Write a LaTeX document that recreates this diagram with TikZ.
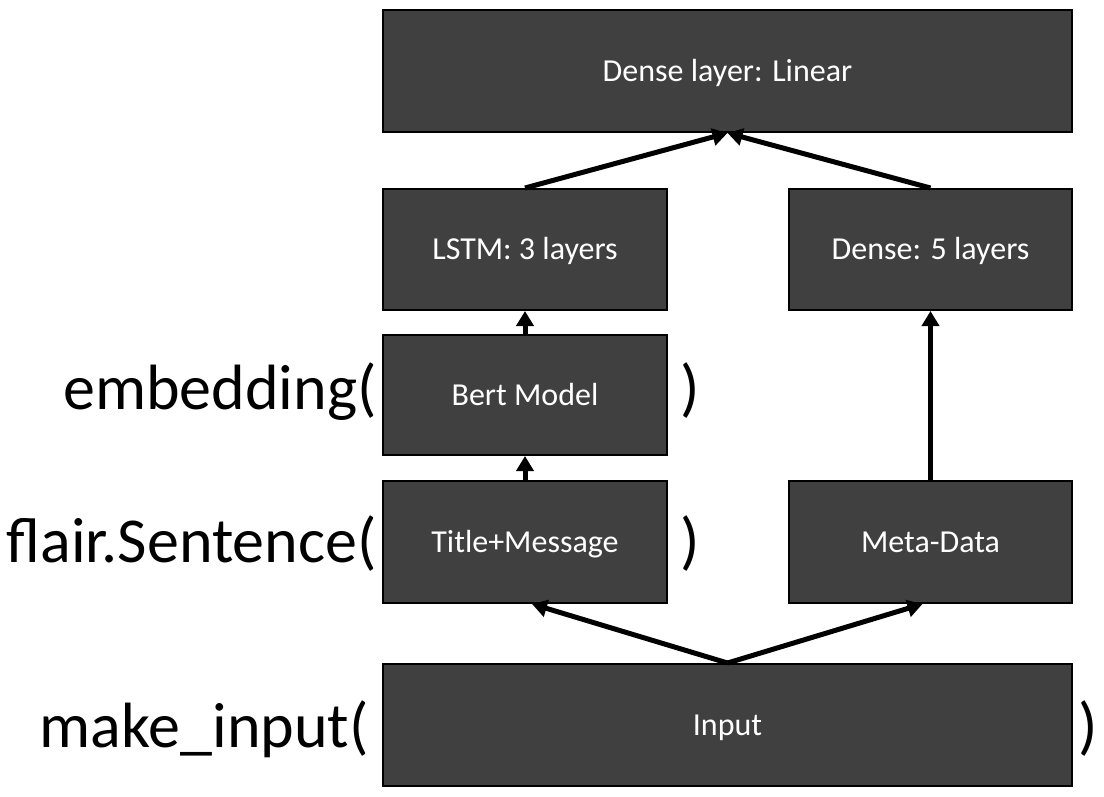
\documentclass[tikz,border=0pt]{standalone}
\usepackage{fontspec}
\setmainfont{Carlito}
\usetikzlibrary{arrows.meta}
\definecolor{boxgray}{HTML}{404040}
\tikzset{
  layerbox/.style={draw=black, line width=2pt, fill=boxgray, text=white, inner sep=0pt,
    font=\fontsize{32}{38}\selectfont, text height=20pt, text depth=0pt, align=center},
  bigtext/.style={inner sep=0pt, font=\fontsize{64}{76}\selectfont},
  conn/.style={line width=5pt, -{Triangle[length=15pt,width=17pt]}},
}
\begin{document}
\begin{tikzpicture}[x=1pt, y=-1pt]
\useasboundingbox (0,0) rectangle (1104,796);
\node[layerbox, minimum width=689pt, minimum height=122pt] (dense) at (727.5,71) {Dense layer: Linear};
\node[layerbox, minimum width=284pt, minimum height=121pt] (lstm) at (525,249.5) {LSTM: 3 layers};
\node[layerbox, minimum width=283pt, minimum height=121pt] (dense5) at (930.5,249.5) {Dense: 5 layers};
\node[layerbox, minimum width=284pt, minimum height=120pt] (bert) at (525,395) {Bert Model};
\node[layerbox, minimum width=284pt, minimum height=122pt] (title) at (525,542) {Title+Message};
\node[layerbox, minimum width=283pt, minimum height=122pt] (meta) at (930.5,542) {Meta-Data};
\node[layerbox, minimum width=689pt, minimum height=122pt] (input) at (727.5,725) {Input};

\node[bigtext, anchor=base east] (embl) at (377,409) {embedding(};
\node[bigtext, anchor=base west] (embr) at (680,409) {)};
\node[bigtext, anchor=base east] (flairl) at (377,562) {flair.Sentence(};
\node[bigtext, anchor=base west] (flairr) at (680,562) {)};
\node[bigtext, anchor=base east] (makel) at (369,747) {make\_input(};
\node[bigtext, anchor=base west] (maker) at (1078,747) {)};

\draw[conn] (input.north) -- ([xshift=7pt]title.south);
\draw[conn] (input.north) -- ([xshift=-8pt]meta.south);
\draw[conn] (title.north) -- (bert.south);
\draw[conn] (bert.north) -- (lstm.south);
\draw[conn] (meta.north) -- (dense5.south);
\draw[conn] (lstm.north) -- (dense.south);
\draw[conn] (dense5.north) -- (dense.south);
\end{tikzpicture}
\end{document}
